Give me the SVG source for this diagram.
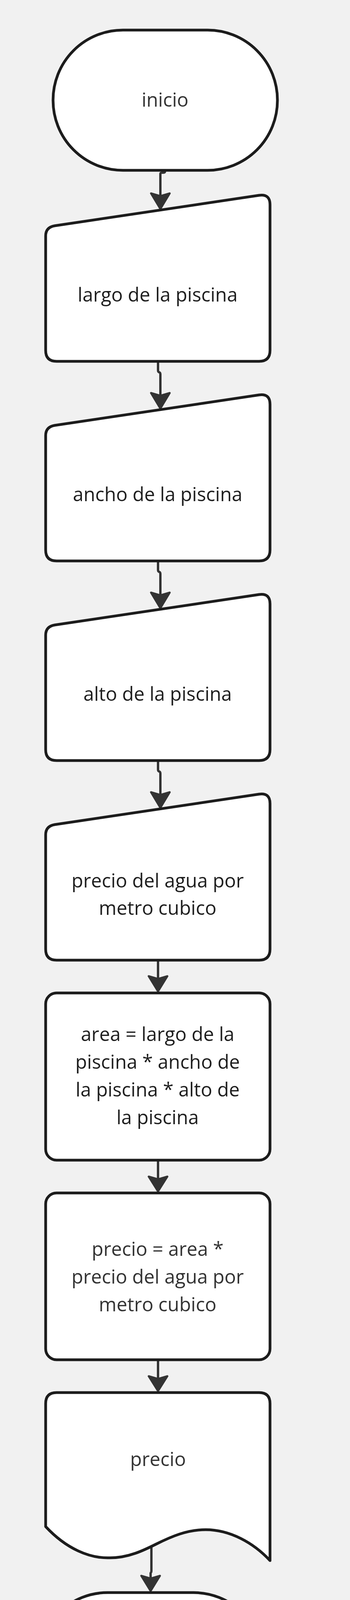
<svg xmlns="http://www.w3.org/2000/svg" width="897" height="4457" viewBox="0 0 897 4457">
<style>
.shape{fill:#ffffff;stroke:#1c1c1c;stroke-width:7;stroke-linejoin:round}
.t{font-family:"Open Sans","Noto Sans","Liberation Sans",sans-serif;font-size:49px;text-anchor:middle;fill:#1e1e1e}
.t2{fill:#333333}
.edge{fill:none;stroke:#333333;stroke-width:6;stroke-linecap:round;stroke-linejoin:round}
.head{fill:#333333;stroke:#333333;stroke-width:5;stroke-linejoin:round}
</style>
<rect x="0" y="0" width="897" height="4457" fill="#f1f1f1"/>

<g id="connectors">
  <path class="edge" d="M423,437 L423,438 Q423,442 419,442 L415,442 Q411,442 411,446 L411,498"/>
  <polygon class="head" points="387,495 411,502 435,495 411,535"/>

  <path class="edge" d="M405,926 L405,948 Q405,952 408,953 Q411,954 411,958 L411,1009"/>
  <polygon class="head" points="387,1006 411,1013 435,1006 411,1046"/>

  <path class="edge" d="M405,1437 L405,1459 Q405,1463 408,1464 Q411,1465 411,1469 L411,1520"/>
  <polygon class="head" points="387,1517 411,1524 435,1517 411,1557"/>

  <path class="edge" d="M405,1948 L405,1970 Q405,1974 408,1975 Q411,1976 411,1980 L411,2031"/>
  <polygon class="head" points="387,2028 411,2035 435,2028 411,2068"/>

  <path class="edge" d="M405,2459 L405,2505"/>
  <polygon class="head" points="381,2499 405,2506 429,2499 405,2538"/>

  <path class="edge" d="M405,2971 L405,3017"/>
  <polygon class="head" points="381,3012 405,3019 429,3012 405,3050"/>

  <path class="edge" d="M405,3482 L405,3528"/>
  <polygon class="head" points="381,3523 405,3530 429,3523 405,3561"/>

  <path class="edge" d="M388,3962 L388,4022 Q388,4025 386,4027 L386,4040"/>
  <polygon class="head" points="362,4034 386,4041 410,4034 386,4073"/>
</g>

<g id="inicio">
  <rect class="shape" x="136" y="77" width="575" height="359" rx="179" ry="179"/>
  <text class="t t2" x="423" y="273">inicio</text>
</g>

<g id="in-largo">
  <path class="shape" d="M117,604 Q117,582 140,578 L664,500 Q692,496 692,524 L692,897 Q692,925 664,925 L145,925 Q117,925 117,897 Z"/>
  <text class="t" x="404" y="772">largo de la piscina</text>
</g>

<g id="in-ancho">
  <path class="shape" d="M117,1115 Q117,1093 140,1089 L664,1011 Q692,1007 692,1035 L692,1408 Q692,1436 664,1436 L145,1436 Q117,1436 117,1408 Z"/>
  <text class="t" x="404" y="1283">ancho de la piscina</text>
</g>

<g id="in-alto">
  <path class="shape" d="M117,1626 Q117,1604 140,1600 L664,1522 Q692,1518 692,1546 L692,1919 Q692,1947 664,1947 L145,1947 Q117,1947 117,1919 Z"/>
  <text class="t" x="404" y="1794">alto de la piscina</text>
</g>

<g id="in-precio-agua">
  <path class="shape" d="M117,2137 Q117,2115 140,2111 L664,2033 Q692,2029 692,2057 L692,2430 Q692,2458 664,2458 L145,2458 Q117,2458 117,2430 Z"/>
  <text class="t" x="404" y="2272">precio del agua por</text>
  <text class="t" x="404" y="2342">metro cubico</text>
</g>

<g id="proc-area">
  <rect class="shape" x="117" y="2542" width="575" height="428" rx="28" ry="28"/>
  <text class="t" x="404" y="2665">area = largo de la</text>
  <text class="t" x="404" y="2736">piscina * ancho de</text>
  <text class="t" x="404" y="2807">la piscina * alto de</text>
  <text class="t" x="404" y="2878">la piscina</text>
</g>

<g id="proc-precio">
  <rect class="shape" x="117" y="3054" width="575" height="427" rx="28" ry="28"/>
  <text class="t t2" x="404" y="3215">precio = area *</text>
  <text class="t t2" x="404" y="3286">precio del agua por</text>
  <text class="t t2" x="404" y="3357">metro cubico</text>
</g>

<g id="out-precio">
  <path class="shape" d="M117,3908 L117,3593 Q117,3565 145,3565 L664,3565 Q692,3565 692,3593 L692,3995 C650,3950 590,3916 527,3916 C480,3916 440,3933 400,3953 C370,3968 330,3988 282,3988 C230,3990 170,3965 117,3908 Z"/>
  <text class="t t2" x="405" y="3753">precio</text>
</g>

<g id="fin">
  <rect class="shape" x="98" y="4077" width="576" height="356" rx="178" ry="178"/>
  <text class="t t2" x="386" y="4275">fin</text>
</g>
</svg>
